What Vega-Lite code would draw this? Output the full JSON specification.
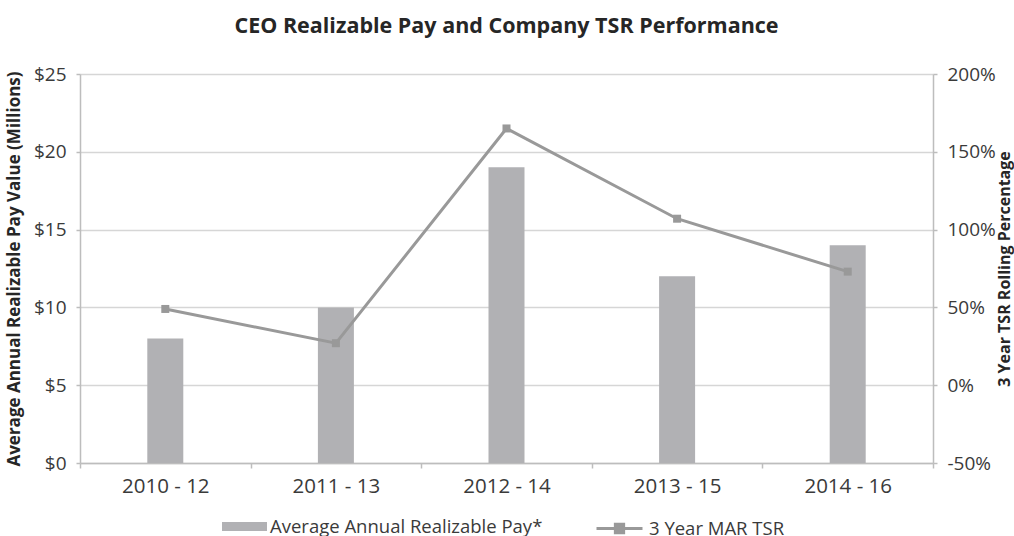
{
  "$schema": "https://vega.github.io/schema/vega-lite/v6.json",
  "width": 853,
  "height": 389,
  "autosize": "none",
  "padding": {"left": 80, "top": 74, "right": 81, "bottom": 73},
  "background": "white",
  "config": {
    "font": "Open Sans",
    "view": {"stroke": null},
    "axis": {"labelColor": "#3a3a3a", "titleColor": "#262626", "domainColor": "#bdbdbd", "tickColor": "#bdbdbd", "domainWidth": 1.5, "tickWidth": 1.5},
    "legend": {"padding": 0, "labelLimit": 500}
  },
  "title": {"text": "CEO Realizable Pay and Company TSR Performance", "fontSize": 21.5, "fontWeight": "bold", "color": "#262626", "offset": 28, "font": "Open Sans"},
  "data": {"values": [
    {"period": "2010 - 12", "pay": 8, "tsr": 49},
    {"period": "2011 - 13", "pay": 10, "tsr": 27},
    {"period": "2012 - 14", "pay": 19, "tsr": 165},
    {"period": "2013 - 15", "pay": 12, "tsr": 107},
    {"period": "2014 - 16", "pay": 14, "tsr": 73}
  ]},
  "encoding": {
    "x": {"field": "period", "type": "nominal", "sort": null,
      "scale": {"paddingInner": 0, "paddingOuter": 0},
      "axis": {"title": null, "labelAngle": 0, "labelFontSize": 20.5, "labelPadding": 8, "tickBand": "extent", "tickSize": 5, "grid": false}}
  },
  "layer": [
    {
      "mark": {"type": "bar", "size": 36},
      "encoding": {
        "y": {"field": "pay", "type": "quantitative", "scale": {"domain": [0, 25]},
          "axis": {"title": "Average Annual Realizable Pay Value (Millions)", "titleFontSize": 17, "titleFontWeight": "bold", "titlePadding": 10,
            "values": [0, 5, 10, 15, 20, 25], "labelExpr": "'$' + datum.value", "labelFontSize": 19, "labelPadding": 10, "tickSize": 4,
            "grid": true, "gridColor": "#d6d6d6", "gridWidth": 1.5}},
        "fill": {"datum": "Average Annual Realizable Pay*", "scale": {"range": ["#b1b1b4"]},
          "legend": {"orient": "none", "legendX": 142, "legendY": 430, "title": null, "direction": "horizontal", "symbolType": "M-1,-0.2H1V0.2H-1Z", "symbolSize": 2025, "symbolStrokeWidth": 0, "labelFontSize": 18.5, "labelColor": "#3a3a3a", "labelOffset": 3}}
      }
    },
    {
      "encoding": {
        "y": {"field": "tsr", "type": "quantitative", "scale": {"domain": [-50, 200]},
          "axis": {"orient": "right", "title": "3 Year TSR Rolling Percentage", "titleAngle": 270, "titleFontSize": 16, "titleFontWeight": "bold", "titlePadding": 17,
            "values": [-50, 0, 50, 100, 150, 200], "labelExpr": "datum.value + '%'", "labelFontSize": 19, "labelPadding": 10, "tickSize": 4, "grid": false}}
      },
      "layer": [
        {
          "mark": {"type": "line", "strokeWidth": 3},
          "encoding": {
            "stroke": {"datum": "3 Year MAR TSR", "scale": {"range": ["#999999"]},
              "legend": {"orient": "none", "legendX": 515, "legendY": 430, "title": null, "direction": "horizontal", "symbolType": "M-1,0H1M-0.18,-0.18H0.18V0.18H-0.18Z", "symbolSize": 2116, "symbolStrokeWidth": 3, "symbolFillColor": "#999999", "labelFontSize": 18.5, "labelColor": "#3a3a3a", "labelOffset": 5}}
          }
        },
        {
          "mark": {"type": "point", "shape": "square", "filled": true, "size": 64, "color": "#999999", "opacity": 1},
          "encoding": {}
        }
      ]
    }
  ],
  "resolve": {"scale": {"y": "independent", "fill": "independent", "stroke": "independent"}}
}
